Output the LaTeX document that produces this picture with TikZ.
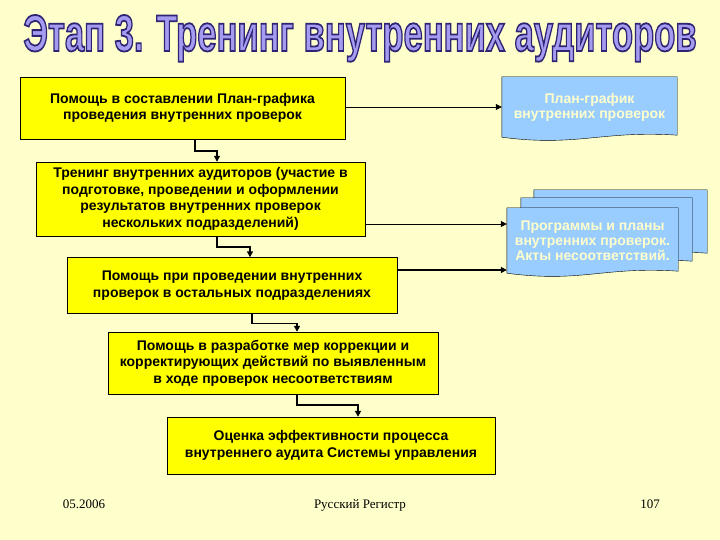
\documentclass[tikz,border=0pt]{standalone}
\usepackage{fontspec}
\setmainfont{Liberation Sans}
\newfontfamily\footfont{Liberation Serif}
\usetikzlibrary{backgrounds,arrows.meta}
\definecolor{pagebg}{RGB}{255,255,204}
\definecolor{stepyellow}{RGB}{255,255,0}
\definecolor{docblue}{RGB}{153,204,255}
\definecolor{doctext}{RGB}{255,255,204}
\definecolor{titlefill}{RGB}{165,155,240}
% outlined text: fill and stroke
\newcommand{\outlined}[1]{\special{pdf:literal direct 2 Tr 0.35 w 0.18 0.14 0.45 RG}#1\special{pdf:literal direct 0 Tr}}
\newcommand{\docpath}[1]{(#1.north west) -- (#1.north east) -- ([yshift=2]#1.south east)
  .. controls ([xshift=-75,yshift=7]#1.south east) and ([xshift=75,yshift=-10]#1.south west) .. (#1.south west) -- cycle}
\tikzset{
  stepbox/.style={draw=black, fill=stepyellow, align=center, inner sep=0pt,
    font=\bfseries\fontsize{14}{16.5}\selectfont},
  docnode/.style={align=center, inner sep=0pt, text=doctext,
    font=\bfseries\fontsize{14}{15}\selectfont},
  docshape/.style={draw=black, fill=docblue},
  elbow/.style={line width=1.6pt, -{Triangle[length=6pt,width=6pt]}},
  link/.style={line width=0.8pt, -{Triangle[length=6pt,width=6pt]}},
  footer/.style={font=\footfont\fontsize{13}{15}\selectfont}
}

\begin{document}
\begin{tikzpicture}[x=1pt,y=1pt]
	\useasboundingbox (0,0) rectangle (720,540);
	% title
	\node (title) [anchor=base, text=titlefill] at (360,489)
		{\resizebox{673pt}{36pt}{\bfseries\outlined{Этап 3. Тренинг внутренних аудиторов}}};
	% steps
	\node (help) [stepbox, minimum width=325, minimum height=62] at (182.5,432)
		{Помощь в составлении План-графика\\проведения внутренних проверок};
	\node (training) [stepbox, minimum width=329, minimum height=74] at (200.5,341)
		{Тренинг внутренних аудиторов (участие в\\подготовке, проведении и оформлении\\результатов внутренних проверок\\нескольких подразделений)};
	\node (assist) [stepbox, minimum width=330, minimum height=56] at (232,254.5)
		{Помощь при проведении внутренних\\проверок в остальных подразделениях};
	\node (correct) [stepbox, minimum width=330, minimum height=62] at (273,177)
		{Помощь в разработке мер коррекции и\\корректирующих действий по выявленным\\в ходе проверок несоответствиям};
	\node (evaluate) [stepbox, minimum width=328, minimum height=57] at (331,94.5)
		{Оценка эффективности процесса\\внутреннего аудита Системы управления};
	% documents
	\node (schedule) [docnode, minimum width=175, minimum height=60] at (589.5,433)
		{План-график\\внутренних проверок};
	\node (progback) [minimum width=173, minimum height=65, inner sep=0pt] at (620.5,317.5) {};
	\node (progmid) [minimum width=171, minimum height=65, inner sep=0pt] at (606.5,309.5) {};
	\node (programs) [docnode, minimum width=171, minimum height=65] at (592.5,299.5)
		{Программы и планы\\внутренних проверок.\\Акты несоответствий.};
	\coordinate (progin) at ([yshift=16.5]programs.west);
	\coordinate (actsin) at ([yshift=-29.5]programs.west);
	% connectors
	\draw[elbow] ([xshift=12.5]help.south) -- ++(0,-12) -| ([xshift=16.5]training.north);
	\draw[elbow] ([xshift=16.5]training.south) -- ++(0,-11) -| ([xshift=18]assist.north);
	\draw[elbow] ([xshift=20]assist.south) -- ++(0,-10) -| ([xshift=24]correct.north);
	\draw[elbow] ([xshift=24]correct.south) -- ++(0,-11) -| ([xshift=27]evaluate.north);
	\draw[link] (help.east |- schedule.west) -- (schedule.west);
	\draw[link] (training.east |- progin) -- (progin);
	\draw[elbow] (assist.east |- actsin) -- (actsin);
	% footer
	\node (date) [footer, anchor=base] at (84,31) {05.2006};
	\node (register) [footer, anchor=base] at (360,31) {Русский Регистр};
	\node (page) [footer, anchor=base] at (650,31) {107};
	% background and document outlines
	\begin{scope}[on background layer]
		\fill[pagebg] (0,0) rectangle (720,540);
		\path[docshape] \docpath{schedule};
		\path[docshape] \docpath{progback};
		\path[docshape] \docpath{progmid};
		\path[docshape] \docpath{programs};
	\end{scope}
\end{tikzpicture}
\end{document}
